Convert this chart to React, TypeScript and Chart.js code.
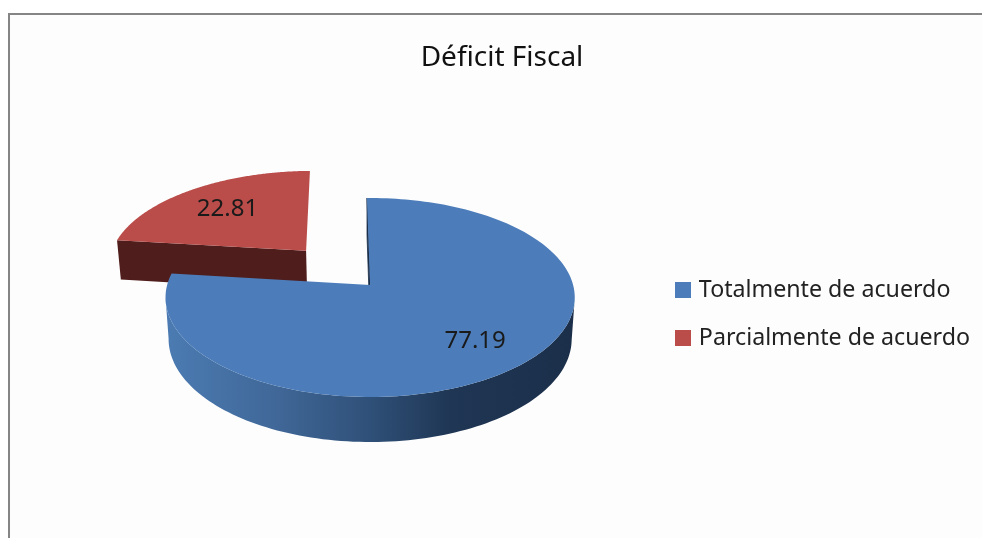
import React, { useEffect, useRef } from "react";
import { Chart, registerables } from "chart.js";

Chart.register(...registerables);

const titleText = "Déficit Fiscal";
const categories = ["Totalmente de acuerdo", "Parcialmente de acuerdo"];
const values = [77.19, 22.81];
const explode = [0, 100];
const labelRadius = [0.72, 0.67];
const topColors = ["#4c7dba", "#ba4d4a"];

const FONT = "'Noto Sans', sans-serif";
const VIEW = { dx: 31, dy: -29, sy: 97.9, p: 0.1256, depth: 41, lowScale: 0.985, horizon: 0.12 };

function makeSwatch(color: string) {
  const c = document.createElement("canvas");
  c.width = 16;
  c.height = 16;
  const g = c.getContext("2d")!;
  g.fillStyle = color;
  g.fillRect(0, 0, 16, 16);
  return c;
}

const pie3d = {
  id: "pie3d",
  beforeDraw(chart: any) {
    const { ctx, width, height } = chart;
    ctx.save();
    ctx.fillStyle = "#858585";
    ctx.fillRect(8, 13, width - 8, height - 13);
    ctx.fillStyle = "#fdfdfd";
    ctx.fillRect(10, 15, width - 10, height - 15);
    ctx.restore();
  },
  beforeDatasetDraw(chart: any, args: any) {
    const { ctx } = chart;
    const arcs = chart.getDatasetMeta(args.index).data;
    const center = arcs[0];
    const cx = center.x + VIEW.dx;
    const cy = center.y + VIEW.dy;
    const R = center.outerRadius;
    const proj = (X: number, Y: number, low: boolean) => {
      const f = 1 / (1 - VIEW.p * Y);
      const k = low ? VIEW.lowScale : 1;
      return {
        x: cx + X * R * f * k,
        y: cy + Y * VIEW.sy * f + (low ? VIEW.depth * Math.pow(f, 0.7) : 0),
      };
    };
    const outline = (arc: any) => {
      const a0 = arc.startAngle;
      const a1 = arc.endAngle;
      const mid = (a0 + a1) / 2;
      const off = (arc.options.offset || 0) / R;
      const ox = Math.cos(mid) * off;
      const oy = Math.sin(mid) * off;
      const pts: { X: number; Y: number }[] = [{ X: ox, Y: oy }];
      const n = 180;
      for (let i = 0; i <= n; i++) {
        const a = a0 + ((a1 - a0) * i) / n;
        pts.push({ X: ox + Math.cos(a), Y: oy + Math.sin(a) });
      }
      return { pts, ox, oy, mid };
    };
    const wall = (pts: { X: number; Y: number }[], from: number, to: number, style: any, stroke: boolean) => {
      ctx.beginPath();
      for (let s = from; s <= to; s++) {
        const t = proj(pts[s].X, pts[s].Y, false);
        if (s === from) ctx.moveTo(t.x, t.y);
        else ctx.lineTo(t.x, t.y);
      }
      for (let s = to; s >= from; s--) {
        const l = proj(pts[s].X, pts[s].Y, true);
        ctx.lineTo(l.x, l.y);
      }
      ctx.closePath();
      ctx.fillStyle = style;
      ctx.fill();
      if (stroke) {
        ctx.strokeStyle = style;
        ctx.lineWidth = 0.8;
        ctx.stroke();
      }
    };
    const face = (arc: any, pts: { X: number; Y: number }[]) => {
      ctx.beginPath();
      pts.forEach((p, k) => {
        const t = proj(p.X, p.Y, false);
        if (k === 0) ctx.moveTo(t.x, t.y);
        else ctx.lineTo(t.x, t.y);
      });
      ctx.closePath();
      ctx.fillStyle = arc.options.backgroundColor;
      ctx.fill();
    };
    const blueSide = ctx.createLinearGradient(cx - R, 0, cx + R, 0);
    blueSide.addColorStop(0, "#4b7bb2");
    blueSide.addColorStop(0.25, "#41699a");
    blueSide.addColorStop(0.5, "#2f5078");
    blueSide.addColorStop(0.7, "#1f3654");
    blueSide.addColorStop(1, "#1b2f4a");

    ctx.save();
    // exploded slice first: only its front wall faces the viewer
    const red = outline(arcs[1]);
    wall(red.pts, 0, 1, "#4f1d1b", false);
    face(arcs[1], red.pts);
    // main slice: outer wall between the two silhouette points of the rim
    const blue = outline(arcs[0]);
    wall(blue.pts, 0, 1, "#1b2f4a", true);
    let first = 1;
    while (first < blue.pts.length - 1 && blue.pts[first].Y < VIEW.horizon) first++;
    let last = first;
    while (last < blue.pts.length - 1 && blue.pts[last + 1].Y >= VIEW.horizon) last++;
    wall(blue.pts, first, last, blueSide, false);
    face(arcs[0], blue.pts);

    ctx.font = `24px ${FONT}`;
    ctx.textAlign = "center";
    ctx.textBaseline = "middle";
    ctx.fillStyle = "#1a1a1a";
    arcs.forEach((arc: any, i: number) => {
      const { ox, oy, mid } = outline(arc);
      const r = labelRadius[i];
      const t = proj(ox + Math.cos(mid) * r, oy + Math.sin(mid) * r, false);
      ctx.fillText(values[i].toFixed(2), t.x, t.y);
    });
    ctx.restore();
    return false;
  },
};

export default function App() {
  const ref = useRef<HTMLCanvasElement>(null);
  useEffect(() => {
    const swatches = topColors.map(makeSwatch);
    const chart = new Chart(ref.current!, {
      type: "pie",
      data: {
        labels: categories,
        datasets: [
          {
            data: values,
            backgroundColor: topColors,
            borderWidth: 0,
            offset: explode,
            radius: 203,
            rotation: -1,
          } as any,
        ],
      },
      options: {
        animation: false,
        responsive: false,
        devicePixelRatio: 1,
        layout: { padding: { left: 24, right: 2, top: 0, bottom: 0 } },
        plugins: {
          tooltip: { enabled: false },
          title: {
            display: true,
            text: titleText,
            color: "#111111",
            font: { family: FONT, size: 28, weight: "normal" },
            padding: { top: 41, bottom: 15.4 },
          },
          legend: {
            position: "right",
            fullSize: false,
            labels: {
              color: "#222222",
              font: { family: FONT, size: 23.2 },
              usePointStyle: true,
              pointStyleWidth: 8,
              boxHeight: 16,
              padding: 25,
              generateLabels: (c: any) =>
                (Chart as any).overrides.doughnut.plugins.legend.labels
                  .generateLabels(c)
                  .map((item: any, i: number) => ({ ...item, pointStyle: swatches[i] })),
            },
          },
        },
      } as any,
      plugins: [pie3d],
    });
    return () => chart.destroy();
  }, []);
  return (
    <canvas
      ref={ref}
      width={982}
      height={538}
      style={{ position: "absolute", left: 0, top: 0, display: "block" }}
    />
  );
}
